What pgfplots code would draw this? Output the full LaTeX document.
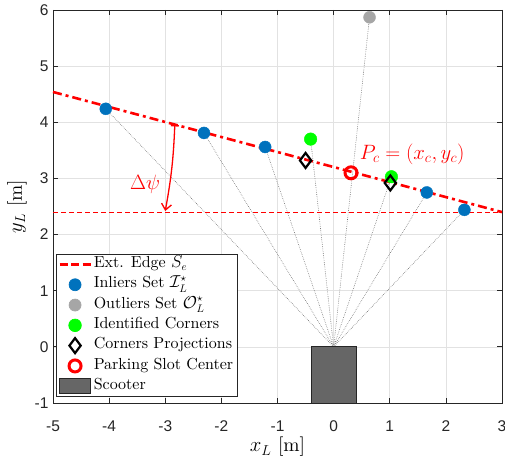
\documentclass[border=0pt]{standalone}
\usepackage{fontspec}
\setmainfont{lmroman10-regular}[Extension=.otf, BoldFont=lmroman10-bold, ItalicFont=lmroman10-italic]
\usepackage{pgfplots}
\pgfplotsset{compat=1.18}
\usetikzlibrary{arrows.meta}
\newfontfamily\helv{Liberation Sans}
\definecolor{inlier}{RGB}{0,114,189}
\definecolor{outlier}{RGB}{166,166,166}
\definecolor{corner}{RGB}{0,255,0}
\definecolor{scooter}{RGB}{102,102,102}
\definecolor{gridc}{RGB}{226,226,226}
\definecolor{axc}{RGB}{38,38,38}
\definecolor{rayc}{RGB}{110,110,110}
\pgfplotsset{
  ray/.style={forget plot, rayc, line width=0.6pt, dash pattern=on 0.6pt off 1.2pt},
  wide legend/.style={legend image code/.code={%
    \draw[mark repeat=2, mark phase=2, ##1] plot coordinates {(0pt,0pt) (15.5pt,0pt) (31pt,0pt)};}},
}
\begin{document}
\begin{tikzpicture}
\begin{axis}[
  name=ax,
  scale only axis,
  width=449pt, height=393pt,
  xmin=-5, xmax=3, ymin=-1, ymax=6,
  xtick={-5,...,3}, ytick={-1,...,6},
  grid=major,
  major grid style={gridc, line width=0.6pt},
  axis line style={axc, line width=0.7pt},
  tick style={axc, line width=0.7pt},
  tick align=inside,
  tick pos=both,
  major tick length=5pt,
  /pgf/number format/assume math mode=true,
  ticklabel style={font=\helv\fontsize{15.5}{17}\selectfont, text=axc},
  xticklabel style={yshift=-14pt},
  yticklabel style={xshift=-1pt},
  xlabel={$x_L$ [m]},
  ylabel={$y_L$ [m]},
  label style={font=\fontsize{19.5}{21}\selectfont},
  xlabel style={yshift=1pt},
  ylabel style={yshift=1pt},
  wide legend,
  legend style={
    at={(rel axis cs:0.0067,0.015)}, anchor=south west,
    font=\fontsize{16}{18}\selectfont,
    draw=axc, line width=0.7pt,
    inner xsep=2pt, inner ysep=0.5pt,
    row sep=0.3pt,
    nodes={inner ysep=0pt, inner xsep=2pt, text height=13.2pt, text depth=6.8pt},
  },
  legend cell align=left,
  clip=false,
]
% rays from the sensor origin to every detected point
\addplot[ray] coordinates {(0,0) (-4.06,4.24)};
\addplot[ray] coordinates {(0,0) (-2.31,3.81)};
\addplot[ray] coordinates {(0,0) (-1.22,3.56)};
\addplot[ray] coordinates {(0,0) (-0.41,3.70)};
\addplot[ray] coordinates {(0,0) (0.64,5.87)};
\addplot[ray] coordinates {(0,0) (1.03,3.03)};
\addplot[ray] coordinates {(0,0) (1.66,2.75)};
\addplot[ray] coordinates {(0,0) (2.33,2.44)};
% reference heading
\addplot[forget plot, red, line width=0.8pt, dash pattern=on 5pt off 3pt] coordinates {(-5,2.39) (3,2.39)};
% extracted edge
\addplot[red, line width=2.6pt, dash pattern=on 9pt off 4pt on 3pt off 4pt,
  legend image code/.code={\draw[red, line width=2.4pt, dash pattern=on 8pt off 3.5pt] (0pt,0pt) -- (31pt,0pt);}]
  coordinates {(-5,4.54) (3,2.40)};
\addlegendentry{Ext. Edge $S_e$}
\addplot[only marks, mark=*, mark size=6pt, mark options={draw=inlier, fill=inlier}]
  coordinates {(-4.06,4.24) (-2.31,3.81) (-1.22,3.56) (1.66,2.75) (2.33,2.44)};
\addlegendentry{Inliers Set $\mathcal{I}_L^\star$}
\addplot[only marks, mark=*, mark size=6pt, mark options={draw=outlier, fill=outlier}]
  coordinates {(0.64,5.87)};
\addlegendentry{Outliers Set $\mathcal{O}_L^\star$}
\addplot[only marks, mark=*, mark size=6.3pt, mark options={draw=corner, fill=corner}]
  coordinates {(-0.41,3.70) (1.03,3.03)};
\addlegendentry{Identified Corners}
\addplot[only marks, mark=diamond, mark size=7.5pt, mark options={draw=black, line width=2.2pt}]
  coordinates {(-0.50,3.32) (1.01,2.92)};
\addlegendentry{Corners Projections}
\addplot[only marks, mark=o, mark size=6pt, mark options={draw=red, line width=3pt}]
  coordinates {(0.31,3.10)};
\addlegendentry{Parking Slot Center}
\addplot[fill=scooter, draw=black!85, line width=0.8pt,
  legend image code/.code={\draw[fill=scooter, draw=black!85, line width=0.8pt] (0pt,-7.5pt) rectangle (31pt,7.5pt);}]
  coordinates {(-0.4,-1) (0.4,-1) (0.4,0) (-0.4,0)} -- cycle;
\addlegendentry{Scooter}
% heading offset annotation
\draw[red, line width=1.3pt, {Bar[width=8pt]}-{Straight Barb[length=6pt,width=10pt]}]
  (axis cs:-2.83,3.95) to[bend left=4] (axis cs:-3.0,2.42);
\node[red, font=\fontsize{22}{24}\selectfont] at (axis cs:-3.36,2.90) {$\Delta\psi$};
\node[red, font=\fontsize{22}{24}\selectfont] at (axis cs:1.40,3.43) {$P_c=(x_c,y_c)$};
\end{axis}
\pgfresetboundingbox
\path (ax.south west) ++(-53pt,-54pt) rectangle ([shift={(3pt,10pt)}]ax.north east);
\end{tikzpicture}
\end{document}
